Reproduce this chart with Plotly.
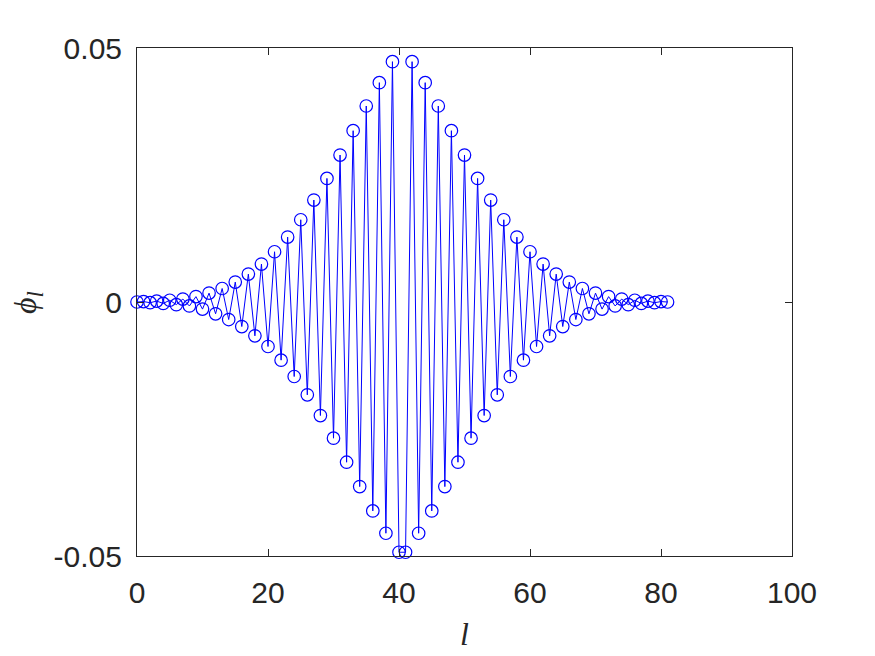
import plotly.graph_objects as go

# site index l = 0..81
l_vals = list(range(82))

# amplitude phi_l
phi_vals = [
    0.0, 0.00008, -0.00014, 0.00018, -0.00028, 0.00034, -0.00052, 0.00058,
    -0.00078, 0.00106, -0.0014, 0.00175, -0.00232, 0.00266, -0.00345, 0.00392,
    -0.00483, 0.00549, -0.00666, 0.00746, -0.00876, 0.00989, -0.01145, 0.01278,
    -0.01467, 0.01619, -0.01828, 0.02007, -0.02235, 0.02433, -0.02681, 0.02893,
    -0.03154, 0.03372, -0.03634, 0.03858, -0.04113, 0.04318, -0.04552, 0.04731,
    -0.04926,
    -0.04926,
    0.04731, -0.04552, 0.04318, -0.04113, 0.03858, -0.03634, 0.03372, -0.03154,
    0.02893, -0.02681, 0.02433, -0.02235, 0.02007, -0.01828, 0.01619, -0.01467,
    0.01278, -0.01145, 0.00989, -0.00876, 0.00746, -0.00666, 0.00549, -0.00483,
    0.00392, -0.00345, 0.00266, -0.00232, 0.00175, -0.0014, 0.00106, -0.00078,
    0.00058, -0.00052, 0.00034, -0.00028, 0.00018, -0.00014, 0.00008, 0.0,
]

x_ticks = [0, 20, 40, 60, 80, 100]
y_ticks = [-0.05, 0, 0.05]
y_tick_labels = ["-0.05", "0", "0.05"]

AX = "#262626"
fig = go.Figure()
fig.add_trace(go.Scatter(
    x=l_vals, y=phi_vals, mode="lines+markers",
    line=dict(color="#0000ff", width=1),
    marker=dict(symbol="circle-open", size=12.5, color="#0000ff",
                line=dict(width=1.2, color="#0000ff")),
    cliponaxis=False, showlegend=False,
))

axis_common = dict(
    showline=True, linecolor=AX, linewidth=1, mirror="ticks",
    ticks="inside", ticklen=7, tickcolor=AX, tickwidth=1,
    showgrid=False, zeroline=False, automargin=False,
    tickfont=dict(family="Liberation Sans, Arial, sans-serif", size=30, color=AX),
)

fig.update_layout(
    width=875, height=656,
    margin=dict(l=129, r=91, t=40, b=108),
    paper_bgcolor="white", plot_bgcolor="white",
    xaxis=dict(range=[0, 100], tickvals=x_ticks, ticklabelstandoff=10,
               title=dict(text="<i>l</i>", standoff=14,
                          font=dict(family="Liberation Serif, serif", size=32, color=AX)),
               **axis_common),
    yaxis=dict(range=[-0.05, 0.05], tickvals=y_ticks, ticktext=y_tick_labels,
               ticklabelstandoff=8, **axis_common),
    annotations=[dict(
        text="<i>ϕ<sub>l</sub></i>", xref="paper", yref="paper",
        x=-0.168, y=0.5, xanchor="center", yanchor="middle",
        textangle=-90, showarrow=False,
        font=dict(family="Liberation Serif, serif", size=32, color=AX),
    )],
)

fig.write_html("out.html")
